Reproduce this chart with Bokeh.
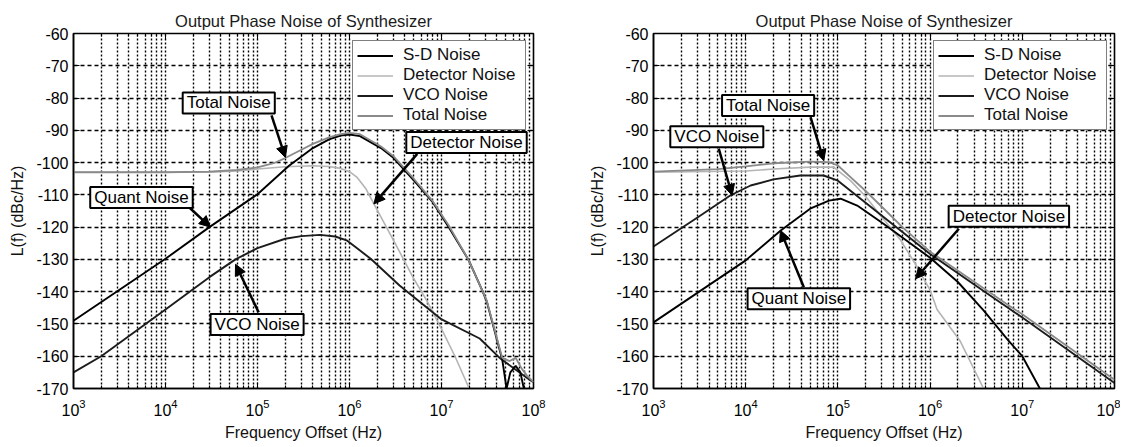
from bokeh.plotting import figure
from bokeh.models import (LinearAxis, FixedTicker, LogTickFormatter, PrintfTickFormatter,
                          Legend, LegendItem, Label, Arrow, NormalHead, Range1d)
from bokeh.layouts import row
from bokeh.embed import file_html
from bokeh.resources import INLINE

# ---------------- data ----------------
TITLE = "Output Phase Noise of Synthesizer"
X_LABEL = "Frequency Offset (Hz)"
Y_LABEL = "L(f) (dBc/Hz)"
decades = [1e3, 1e4, 1e5, 1e6, 1e7, 1e8]
y_ticks = [-170, -160, -150, -140, -130, -120, -110, -100, -90, -80, -70, -60]
series_names = ["S-D Noise", "Detector Noise", "VCO Noise", "Total Noise"]

# left panel
left_sd_f = [1e3, 1e4, 3e4, 1e5, 2.2e5, 4e5, 6e5, 8e5, 1e6, 1.3e6, 2.2e6, 3e6, 5e6, 7.9e6,
             1.2e7, 1.98e7, 2.77e7, 3.1e7, 4.57e7, 5.1e7, 5.6e7, 6.4e7, 7.2e7, 7.85e7]
left_sd_db = [-149, -129.8, -120, -109.8, -101, -95.5, -92.8, -91.6, -91.3, -91.8, -95.5, -98.5,
              -105.5, -112, -120, -130.3, -139.6, -143, -161, -170, -165, -163, -165, -170]
left_det_f = [1e3, 1e4, 3e4, 6e4, 1e5, 2e5, 4e5, 6e5, 8e5, 1e6, 1.2e6, 1.5e6, 1.84e6, 3e6,
              5e6, 6.9e6, 1e7, 1.4e7, 2e7]
left_det_db = [-103, -103, -103, -102.6, -102, -101.3, -101, -101.2, -101.8, -102.8, -104.5,
               -108, -112.8, -124, -136, -142.7, -151.5, -160, -170]
left_vco_f = [1e3, 2e3, 1e4, 3e4, 5.76e4, 1e5, 2e5, 3e5, 4.8e5, 7e5, 9.3e5, 1.2e6, 1.7e6,
              3.5e6, 9.8e6, 2.6e7, 4.4e7, 9.3e7, 1e8]
left_vco_db = [-165, -160, -145.5, -135.5, -130, -126.5, -123.6, -122.8, -122.4, -122.9,
               -124.1, -126.5, -129.8, -138.1, -148.4, -154.5, -160.8, -167.5, -168]
left_tot_f = [1e3, 1e4, 3e4, 6e4, 1e5, 1.5e5, 2e5, 3e5, 4e5, 6e5, 8e5, 1e6, 1.3e6, 2.2e6,
              3e6, 5e6, 7.9e6, 1.2e7, 1.98e7, 2.77e7, 3.1e7, 4.57e7, 5.5e7, 6.4e7, 7.5e7,
              8.5e7, 1e8]
left_tot_db = [-103, -103, -102.8, -102.3, -101.5, -100.2, -98.6, -96, -94.2, -92.2, -91.2,
               -90.8, -91.2, -95, -98, -105, -111.7, -119.5, -130.3, -139.6, -142.7, -160.5,
               -161.5, -160.5, -164, -166, -168]

# right panel
right_sd_f = [1e3, 1e4, 2.38e4, 5e4, 8e4, 1.07e5, 1.62e5, 3.15e5, 1e6, 2e6, 3.8e6, 7e6,
              1e7, 1.55e7]
right_sd_db = [-149.5, -130.3, -121.1, -114.3, -111.8, -111.2, -113.3, -119.0, -129.5, -137,
               -145.8, -155, -160, -170]
right_det_f = [1e3, 1e4, 2e4, 5e4, 9e4, 1.37e5, 2e5, 2.9e5, 4.8e5, 6.95e5, 1e6, 1.19e6,
               2.1e6, 3.8e6]
right_det_db = [-103, -102.6, -102, -101.4, -101.4, -105.6, -110.5, -116.4, -124.1, -131.5,
                -139.5, -145.5, -155.1, -170]
right_vco_f = [1e3, 3e3, 6.8e3, 1.13e4, 2e4, 3.9e4, 7e4, 1e5, 1.37e5, 3.15e5, 1e6, 3.8e6,
               1e7, 1e8]
right_vco_db = [-126, -117, -110.2, -107.1, -105.2, -104.0, -104.0, -105.6, -108.7, -116.9,
                -128.3, -139.8, -148, -168.3]
right_tot_f = [1e3, 5e3, 1e4, 2e4, 5e4, 8e4, 1e5, 1.37e5, 2e5, 3.15e5, 5e5, 1e6, 3.8e6,
               7.4e6, 1e7, 1e8]
right_tot_db = [-102.8, -102, -101.2, -100.2, -99.7, -99.9, -100.9, -104.5, -108.8, -114.3,
                -120, -127.6, -138.9, -144.6, -147.0, -167.3]

# callouts: (text, box centre f, box centre dB, arrow start f, dB, arrow tip f, dB)
left_notes = [
    ("Total Noise", 4.87e4, -81.5, 1.42e5, -85.4, 2.01e5, -98.4),
    ("Quant Noise", 5.48e3, -110.8, 1.72e4, -113.3, 3.08e4, -120.0),
    ("VCO Noise", 9.9e4, -150.2, 1.03e5, -146.4, 5.77e4, -131.5),
    ("Detector Noise", 1.87e7, -93.8, 5.45e6, -97.3, 1.84e6, -112.8),
]
right_notes = [
    ("Total Noise", 1.75e4, -82.3, 5.05e4, -85.9, 7.03e4, -99.4),
    ("VCO Noise", 4.86e3, -92.0, 5.1e3, -95.7, 7.14e3, -110.2),
    ("Quant Noise", 3.77e4, -142.2, 4.27e4, -138.6, 2.38e4, -121.0),
    ("Detector Noise", 7.15e6, -116.6, 2.05e6, -120.5, 6.95e5, -136.0),
]

# ---------------- styling ----------------
FONT = "Liberation Sans"
COL_SD = "#000000"
COL_DET = "#b4b4b4"
COL_VCO = "#1c1c1c"
COL_TOT = "#8a8a8a"

minor = [m * d for d in decades[:-1] for m in range(2, 10)]


def make_panel(width, bl, br, sd, det, vco, tot, notes):
    p = figure(width=width, height=444, x_axis_type="log",
               x_range=Range1d(1e3, 1e8), y_range=Range1d(-170, -60),
               output_backend="svg", toolbar_location=None,
               min_border_left=bl, min_border_right=br,
               min_border_top=33, min_border_bottom=56,
               background_fill_color="white", border_fill_color="white")
    p.title.text = TITLE
    p.title.align = "center"
    p.title.vertical_align = "middle"
    p.title.text_font = FONT
    p.title.text_font_size = "16.5px"
    p.title.text_font_style = "normal"
    p.title.text_color = "#1a1a1a"
    p.title.standoff = 6
    p.title.offset = 0

    xt = FixedTicker(ticks=decades, minor_ticks=minor)
    yt = FixedTicker(ticks=y_ticks)
    xa = p.xaxis[0]
    xa.ticker = xt
    xa.formatter = LogTickFormatter()
    ya = p.yaxis[0]
    ya.ticker = yt
    ya.formatter = PrintfTickFormatter(format="%d")
    for ax in (xa, ya):
        ax.major_tick_in = 6
        ax.major_tick_out = 0
        ax.minor_tick_in = 3
        ax.minor_tick_out = 0
        ax.axis_line_color = "black"
        ax.axis_line_width = 1.5
        ax.major_tick_line_color = "black"
        ax.major_label_text_font = FONT
        ax.major_label_text_font_size = "16px"
        ax.major_label_text_color = "black"
        ax.axis_label_text_font = FONT
        ax.axis_label_text_font_size = "16px"
        ax.axis_label_text_font_style = "normal"
        ax.axis_label_text_color = "#111111"
    xa.axis_label = X_LABEL
    ya.axis_label = Y_LABEL
    xa.major_label_standoff = 10
    xa.axis_label_standoff = 5
    ya.major_label_standoff = 5
    ya.axis_label_standoff = 7

    # ticks on the opposite sides (box)
    ra = LinearAxis(ticker=yt, major_label_text_font_size="1px", major_label_text_alpha=0,
                    major_tick_in=6, major_tick_out=0, minor_tick_in=0, minor_tick_out=0,
                    axis_line_color=None, major_label_standoff=0)
    ta = LinearAxis(ticker=xt, major_label_text_font_size="1px", major_label_text_alpha=0,
                    major_tick_in=6, major_tick_out=0, minor_tick_in=3, minor_tick_out=0,
                    axis_line_color=None, major_label_standoff=0)
    p.add_layout(ra, "right")
    p.add_layout(ta, "above")

    p.xgrid.ticker = xt
    p.xgrid.grid_line_color = "black"
    p.xgrid.grid_line_dash = "2 2"
    p.xgrid.grid_line_width = 1.4
    p.xgrid.minor_grid_line_color = "black"
    p.xgrid.minor_grid_line_dash = "2 2"
    p.xgrid.minor_grid_line_width = 1.4
    p.ygrid.ticker = yt
    p.ygrid.grid_line_color = "black"
    p.ygrid.grid_line_dash = "4 3"
    p.ygrid.grid_line_width = 1.4

    p.outline_line_color = "black"
    p.outline_line_width = 1.6
    p.outline_line_alpha = 1

    r_det = p.line(det[0], det[1], line_color=COL_DET, line_width=1.6)
    r_vco = p.line(vco[0], vco[1], line_color=COL_VCO, line_width=1.9)
    r_sd = p.line(sd[0], sd[1], line_color=COL_SD, line_width=1.9)
    r_tot = p.line(tot[0], tot[1], line_color=COL_TOT, line_width=1.8)

    legend = Legend(items=[LegendItem(label=series_names[0], renderers=[r_sd]),
                           LegendItem(label=series_names[1], renderers=[r_det]),
                           LegendItem(label=series_names[2], renderers=[r_vco]),
                           LegendItem(label=series_names[3], renderers=[r_tot])],
                    location="top_right", margin=7, padding=4, spacing=0,
                    label_text_font=FONT, label_text_font_size="17px",
                    label_text_line_height=1.0,
                    label_text_color="#111111",
                    label_height=17, glyph_height=17, glyph_width=36,
                    label_standoff=10, label_width=118,
                    border_line_color="black", border_line_width=1.5,
                    background_fill_color="white", background_fill_alpha=1)
    p.add_layout(legend)

    for (txt, bx, by, sx, sy, ex, ey) in notes:
        p.add_layout(Arrow(end=NormalHead(size=11, fill_color="black", line_color="black"),
                           x_start=sx, y_start=sy, x_end=ex, y_end=ey,
                           line_color="black", line_width=2.5))
    for (txt, bx, by, sx, sy, ex, ey) in notes:
        p.add_layout(Label(x=bx, y=by, text=txt, text_align="center",
                           text_baseline="middle", text_font=FONT,
                           text_font_size="17px", text_color="black",
                           text_line_height=1.0,
                           border_line_color="black", border_line_width=2,
                           background_fill_color="white", background_fill_alpha=1,
                           padding=(4, 1)))
    return p


p1 = make_panel(566, 73, 33, (left_sd_f, left_sd_db), (left_det_f, left_det_db),
                (left_vco_f, left_vco_db), (left_tot_f, left_tot_db), left_notes)
p2 = make_panel(554, 87, 6, (right_sd_f, right_sd_db), (right_det_f, right_det_db),
                (right_vco_f, right_vco_db), (right_tot_f, right_tot_db), right_notes)

layout = row(p1, p2)
open("out.html", "w").write(file_html(layout, INLINE))
